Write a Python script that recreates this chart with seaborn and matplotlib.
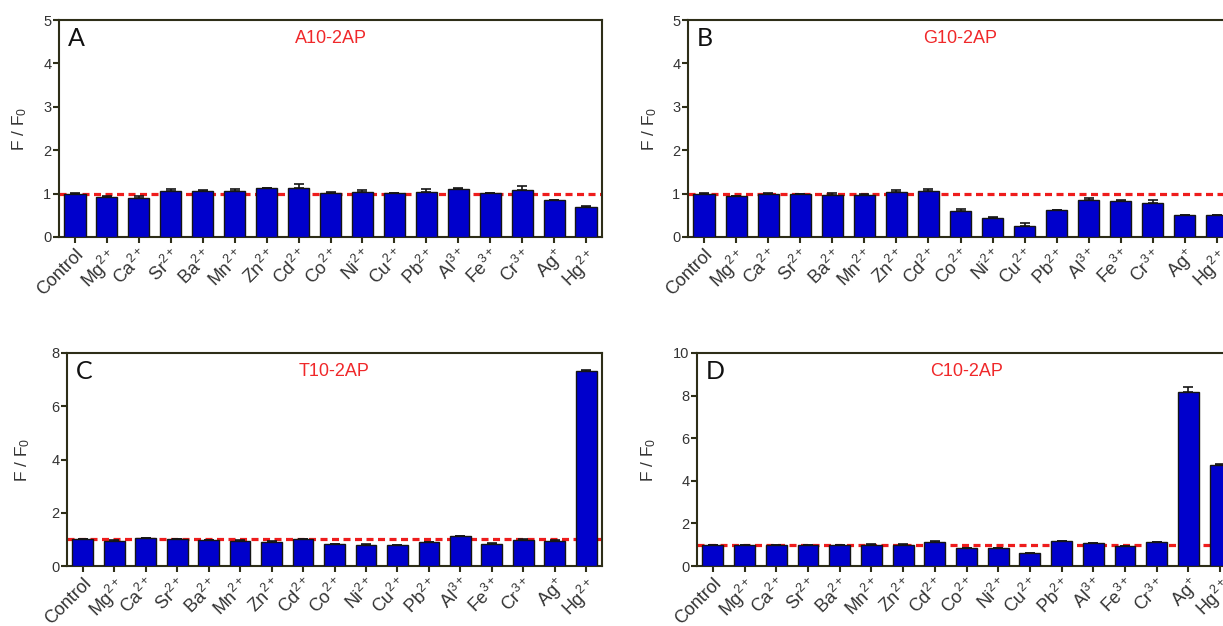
import numpy as np
import pandas as pd
import matplotlib
matplotlib.use("Agg")
import matplotlib.pyplot as plt
import seaborn as sns

# ---------------- data ----------------
ions = ["Control", "Mg$^{2+}$", "Ca$^{2+}$", "Sr$^{2+}$", "Ba$^{2+}$", "Mn$^{2+}$",
        "Zn$^{2+}$", "Cd$^{2+}$", "Co$^{2+}$", "Ni$^{2+}$", "Cu$^{2+}$", "Pb$^{2+}$",
        "Al$^{3+}$", "Fe$^{3+}$", "Cr$^{3+}$", "Ag$^{+}$", "Hg$^{2+}$"]

a10_vals = [1.00, 0.92, 0.90, 1.05, 1.06, 1.06, 1.12, 1.12, 1.02, 1.04, 1.01, 1.04, 1.10, 1.01, 1.08, 0.85, 0.68]
a10_err = [0.01, 0.03, 0.05, 0.06, 0.03, 0.05, 0.01, 0.10, 0.02, 0.04, 0.005, 0.06, 0.02, 0.005, 0.09, 0.01, 0.04]

g10_vals = [1.00, 0.94, 1.00, 0.98, 0.96, 0.96, 1.03, 1.05, 0.60, 0.44, 0.25, 0.62, 0.86, 0.84, 0.79, 0.50, 0.50]
g10_err = [0.01, 0.01, 0.02, 0.01, 0.05, 0.02, 0.05, 0.05, 0.05, 0.01, 0.08, 0.01, 0.04, 0.005, 0.07, 0.01, 0.01]

t10_vals = [1.00, 0.94, 1.04, 1.00, 0.96, 0.93, 0.91, 1.01, 0.83, 0.80, 0.78, 0.90, 1.11, 0.84, 0.97, 0.95, 7.34]
t10_err = [0.01, 0.02, 0.01, 0.01, 0.02, 0.06, 0.04, 0.01, 0.01, 0.01, 0.01, 0.01, 0.01, 0.03, 0.03, 0.01, 0.02]

c10_vals = [0.98, 0.98, 0.97, 0.98, 0.97, 1.00, 1.00, 1.12, 0.83, 0.83, 0.62, 1.17, 1.06, 0.92, 1.12, 8.16, 4.75]
c10_err = [0.01, 0.01, 0.01, 0.01, 0.01, 0.02, 0.02, 0.05, 0.01, 0.01, 0.01, 0.01, 0.01, 0.01, 0.02, 0.23, 0.02]

panel_letters = ["A", "B", "C", "D"]
panel_titles = ["A10-2AP", "G10-2AP", "T10-2AP", "C10-2AP"]
y_max = [5, 5, 8, 10]
y_step = [1, 1, 2, 2]
y_label = "F / F$_0$"

# ---------------- style ----------------
sns.set_theme(style="ticks")
plt.rcParams['font.family'] = ['Liberation Sans', 'DejaVu Sans']
plt.rcParams['mathtext.default'] = 'regular'

W, H = 1223, 626
fig = plt.figure(figsize=(W / 100, H / 100), dpi=100)
fig.patch.set_facecolor("white")

# pixel boxes: left, right, top, bottom
boxes = [(59, 602, 20, 237), (688, 1233, 20, 237),
         (67, 602, 353, 566), (697, 1236, 353, 566)]
label_off = [30, 29, 35, 39]

spine_col = "#2e2e18"
bar_col = "#0000CC"
txt_col = "#333333"

data = [(a10_vals, a10_err), (g10_vals, g10_err), (t10_vals, t10_err), (c10_vals, c10_err)]

for i, ((l, r, t, b), (vals, errs)) in enumerate(zip(boxes, data)):
    ax = fig.add_axes([l / W, 1 - b / H, (r - l) / W, (b - t) / H])
    df = pd.DataFrame({"ion": ions, "ratio": vals})
    ax.axhline(1, color="#ee1c1c", lw=2.3, ls=(0, (2.2, 1.4)), zorder=1)
    sns.barplot(data=df, x="ion", y="ratio", order=ions, ax=ax, color=bar_col,
                saturation=1, width=0.66, edgecolor="#151515", linewidth=1.0,
                errorbar=None, zorder=3)
    pos = np.arange(len(ions))
    ax.errorbar(pos, vals, yerr=[np.zeros(len(errs)), errs], fmt="none",
                ecolor="#151515", elinewidth=1.2, capsize=3.8, capthick=1.2, zorder=4)
    ax.set_xlim(-0.5, len(ions) - 0.5)
    ax.set_ylim(0, y_max[i])
    ax.set_yticks(np.arange(0, y_max[i] + 0.01, y_step[i]))
    ax.set_xlabel("")
    ax.set_ylabel(y_label, fontsize=12.5, color=txt_col)
    ax.yaxis.set_label_coords(-label_off[i] / (r - l), 0.5)
    for s in ax.spines.values():
        s.set_visible(True)
        s.set_color(spine_col)
        s.set_linewidth(1.5)
    ax.tick_params(axis="both", direction="out", length=4, width=1.5, color=spine_col,
                   labelcolor=txt_col, bottom=True, left=True)
    ax.tick_params(axis="y", labelsize=10.5, pad=1.5)
    ax.tick_params(axis="x", labelsize=13, pad=2)
    for lab in ax.get_xticklabels():
        lab.set_rotation(45)
        lab.set_ha("right")
        lab.set_va("top")
        lab.set_rotation_mode("anchor")
    ax.text(9 / (r - l), 1 - 7 / (b - t), panel_letters[i], transform=ax.transAxes,
            ha="left", va="top", fontsize=18, color="#111111",
            family=["Lato", "DejaVu Sans"])
    ax.text(0.5, 0.915, panel_titles[i], transform=ax.transAxes, ha="center",
            va="center", fontsize=13, color="#f0282a")

fig.savefig("out.png", dpi=100)
